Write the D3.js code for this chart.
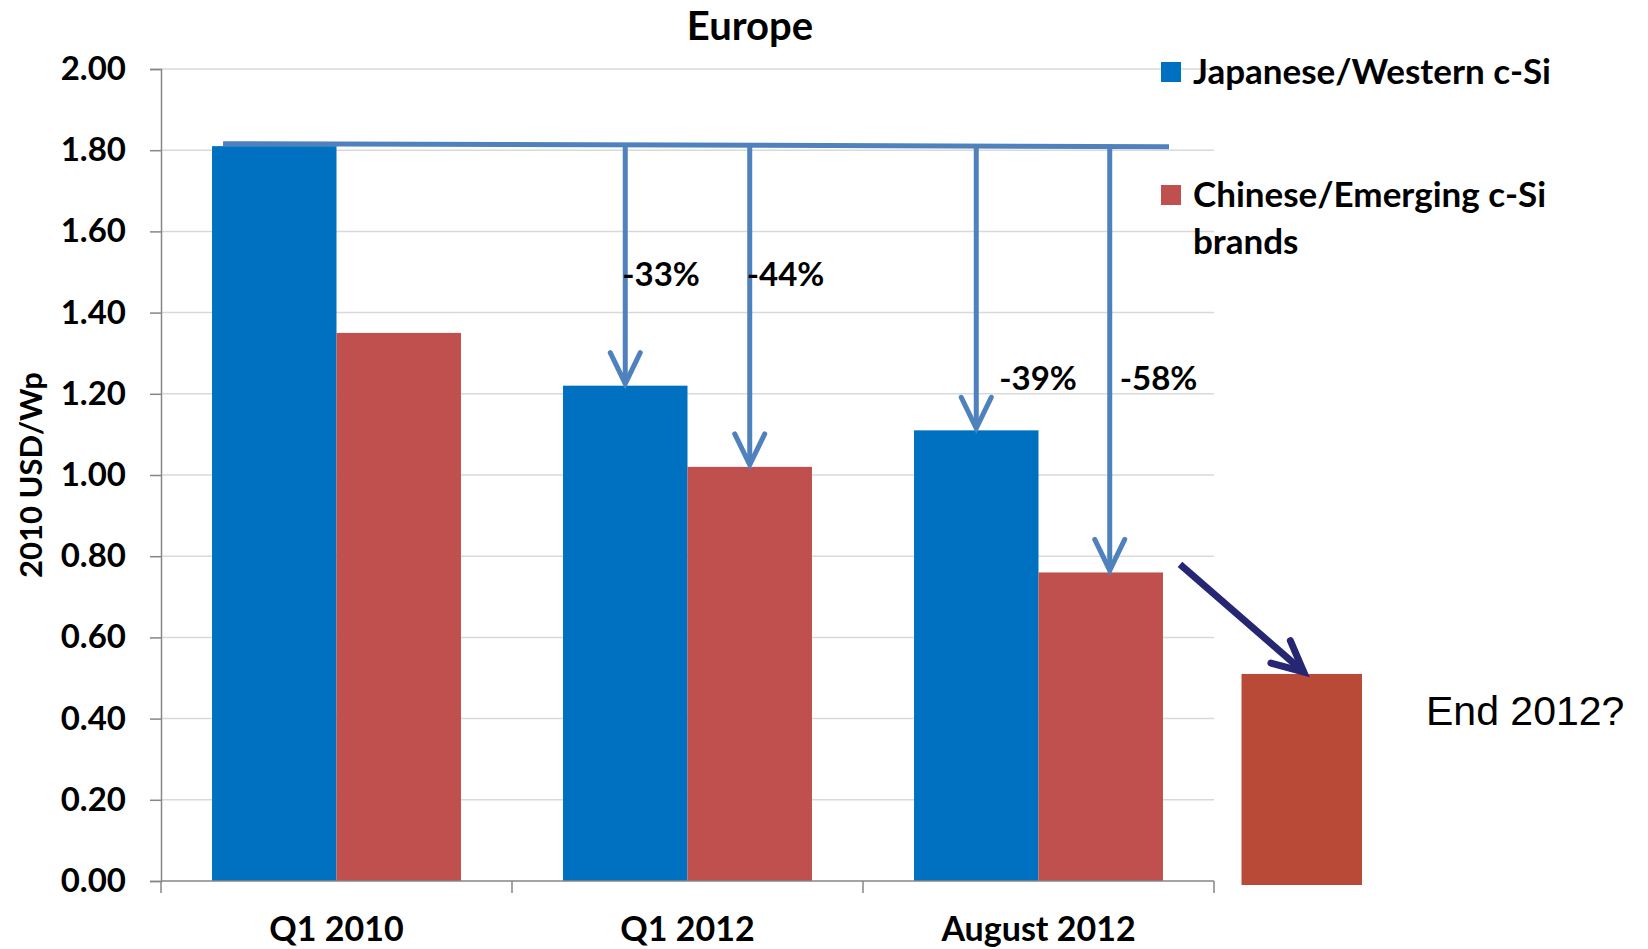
<!DOCTYPE html>
<html>
<head>
<meta charset="utf-8">
<script src="https://cdn.jsdelivr.net/npm/d3@7"></script>
<style>
  html, body { margin: 0; padding: 0; background: #ffffff; }
  svg { display: block; }
</style>
</head>
<body>
<svg id="chart" width="1648" height="949"></svg>
<script>
// Module prices in Europe, 2010 USD per watt-peak
const categories = ["Q1 2010", "Q1 2012", "August 2012"];
const seriesNames = ["Japanese/Western c-Si", "Chinese/Emerging c-Si brands"];
const japaneseWestern = [1.81, 1.22, 1.11];
const chineseEmerging = [1.35, 1.02, 0.76];
const end2012Value = 0.51;
const yTicks = [0, 0.2, 0.4, 0.6, 0.8, 1.0, 1.2, 1.4, 1.6, 1.8, 2.0];
// Drops relative to the Q1 2010 Japanese/Western price
const dropLabels = ["-33%", "-44%", "-39%", "-58%"];

const colors = ["#0070C0", "#C0504D"];
const arrowColor = "#4F81BD";
const boldFont = "Lato, 'Open Sans', sans-serif";

const svg = d3.select("#chart");
const margin = { left: 161, top: 69 };
const plotW = 1214 - 161;
const plotH = 881 - 69;

const x0 = d3.scaleBand().domain(categories).range([margin.left, margin.left + plotW]).padding(0);
const x1 = d3.scaleBand().domain(seriesNames).range([0, x0.bandwidth()]).paddingInner(0).paddingOuter(0.41);
const y = d3.scaleLinear().domain([0, 2]).range([margin.top + plotH, margin.top]);

// Gridlines
svg.append("g")
  .selectAll("line")
  .data(yTicks.filter(d => d > 0))
  .join("line")
  .attr("x1", margin.left).attr("x2", margin.left + plotW)
  .attr("y1", d => y(d)).attr("y2", d => y(d))
  .attr("stroke", "#D9D9D9").attr("stroke-width", 1.5);

// Bars
const rows = categories.map((c, i) => ({ cat: c, vals: [japaneseWestern[i], chineseEmerging[i]] }));
const groups = svg.append("g").selectAll("g")
  .data(rows).join("g")
  .attr("transform", d => `translate(${x0(d.cat)},0)`);
groups.selectAll("rect")
  .data(d => d.vals.map((v, j) => ({ name: seriesNames[j], v, j })))
  .join("rect")
  .attr("x", d => x1(d.name))
  .attr("width", x1.bandwidth())
  .attr("y", d => y(d.v))
  .attr("height", d => y(0) - y(d.v))
  .attr("fill", d => colors[d.j]);

// Y axis
const yAxis = d3.axisLeft(y).tickValues(yTicks).tickFormat(d3.format(".2f")).tickSizeOuter(0).tickSize(11).tickPadding(24);
const ya = svg.append("g").attr("transform", `translate(${margin.left},0)`).call(yAxis);
ya.select(".domain").attr("stroke", "#868686").attr("stroke-width", 1.5);
ya.selectAll(".tick line").attr("stroke", "#868686").attr("stroke-width", 1.5);
ya.selectAll(".tick text")
  .style("font-family", boldFont).style("font-weight", "bold")
  .style("font-size", "33px").attr("fill", "#000");

// X axis
const xAxis = d3.axisBottom(x0).tickSize(0).tickPadding(0);
const xa = svg.append("g").attr("transform", `translate(0,${y(0)})`).call(xAxis);
xa.select(".domain").attr("stroke", "#868686").attr("stroke-width", 1.5)
  .attr("d", `M${margin.left},0H${margin.left + plotW}`);
xa.selectAll(".tick text")
  .style("font-family", boldFont).style("font-weight", "bold")
  .style("font-size", "34px").attr("fill", "#000").attr("dy", 0).attr("y", 60);
// Category separators
const bounds = categories.map(c => x0(c)).concat([x0.range()[1]]);
svg.append("g").selectAll("line").data(bounds).join("line")
  .attr("x1", d => d).attr("x2", d => d)
  .attr("y1", y(0)).attr("y2", y(0) + 12)
  .attr("stroke", "#868686").attr("stroke-width", 1.5);

function boldText(sel, size) {
  return sel.style("font-family", boldFont).style("font-weight", "bold")
    .style("font-size", size + "px").attr("fill", "#000");
}

// Axis title
boldText(svg.append("text"), 31)
  .attr("transform", `translate(42,${(y(0) + y(2)) / 2}) rotate(-90)`)
  .attr("text-anchor", "middle")
  .text("2010 USD/Wp");

// Chart title
boldText(svg.append("text"), 40)
  .attr("x", 750).attr("y", 40)
  .attr("text-anchor", "middle")
  .text("Europe");

// Legend
const legend = svg.append("g").attr("transform", "translate(1161,0)");
const legendRows = [
  { lines: ["Japanese/Western c-Si"], y: 72, color: colors[0] },
  { lines: ["Chinese/Emerging c-Si", "brands"], y: 195, color: colors[1] }
];
legendRows.forEach(r => {
  legend.append("rect").attr("x", 0).attr("y", r.y - 10).attr("width", 20).attr("height", 20).attr("fill", r.color);
  r.lines.forEach((t, k) => {
    boldText(legend.append("text"), 35)
      .attr("x", 32).attr("y", r.y + 12 + k * 47)
      .text(t);
  });
});

// Reference level line at the Q1 2010 Japanese/Western price
const refY = y(japaneseWestern[0]);
const lineX0 = x0(categories[0]) + x1(seriesNames[0]) + 11;
const lineX1 = x0(categories[2]) + x0.bandwidth() - 45;
svg.append("path")
  .attr("d", `M${lineX0},${refY - 2.5}L${lineX1},${refY + 0.5}`)
  .attr("stroke", arrowColor).attr("stroke-width", 5).attr("fill", "none");

// Drop arrows from the reference line to later bars
const drops = [
  { cat: categories[1], s: 0, v: japaneseWestern[1], label: dropLabels[0], dx: 0, ly: 1.465 },
  { cat: categories[1], s: 1, v: chineseEmerging[1], label: dropLabels[1], dx: 0, ly: 1.465 },
  { cat: categories[2], s: 0, v: japaneseWestern[2], label: dropLabels[2], dx: 26, ly: 1.21 },
  { cat: categories[2], s: 1, v: chineseEmerging[2], label: dropLabels[3], dx: 13, ly: 1.21 }
];
const arrows = svg.append("g");
drops.forEach((d, i) => {
  const cx = x0(d.cat) + x1(seriesNames[d.s]) + x1.bandwidth() / 2 + (i === 3 ? 9 : 0);
  const tipY = y(d.v) - 2;
  arrows.append("path")
    .attr("d", `M${cx},${refY - 1}L${cx},${tipY}`)
    .attr("stroke", arrowColor).attr("stroke-width", 5).attr("fill", "none");
  arrows.append("path")
    .attr("d", `M${cx - 15},${tipY - 31}L${cx},${tipY}L${cx + 15},${tipY - 31}`)
    .attr("stroke", arrowColor).attr("stroke-width", 5).attr("fill", "none")
    .attr("stroke-linecap", "round").attr("stroke-linejoin", "miter");
  boldText(svg.append("text"), 33)
    .attr("x", cx - 3 + d.dx).attr("y", y(d.ly))
    .text(d.label);
});

// Projected end-of-2012 price
const endX = x0.range()[1] + 0.25 * x0.bandwidth() - x1.bandwidth() / 2 + 2;
svg.append("rect")
  .attr("x", endX).attr("width", x1.bandwidth() - 4)
  .attr("y", y(end2012Value)).attr("height", y(0) - y(end2012Value) + 4)
  .attr("fill", "#B84A37");

// Navy arrow pointing to the projection
const ax0 = x0(categories[2]) + x0.bandwidth() - 34, ay0 = y(0.77) - 4;
const ax1 = endX + x1.bandwidth() / 2, ay1 = y(end2012Value) - 2;
const ang = Math.atan2(ay1 - ay0, ax1 - ax0);
const hl = 34, ha = 0.45;
svg.append("path")
  .attr("d", `M${ax0},${ay0}L${ax1 - 4 * Math.cos(ang)},${ay1 - 4 * Math.sin(ang)}`)
  .attr("stroke", "#262673").attr("stroke-width", 7).attr("fill", "none");
svg.append("path")
  .attr("d", `M${ax1 - hl * Math.cos(ang - ha)},${ay1 - hl * Math.sin(ang - ha)}L${ax1},${ay1}L${ax1 - hl * Math.cos(ang + ha)},${ay1 - hl * Math.sin(ang + ha)}`)
  .attr("stroke", "#262673").attr("stroke-width", 7).attr("fill", "none")
  .attr("stroke-linecap", "round").attr("stroke-linejoin", "miter");

svg.append("text")
  .attr("x", 1426).attr("y", 725)
  .style("font-family", "'Liberation Sans', Arial, sans-serif")
  .style("font-size", "41px").attr("fill", "#000")
  .text("End 2012?");
</script>
</body>
</html>
